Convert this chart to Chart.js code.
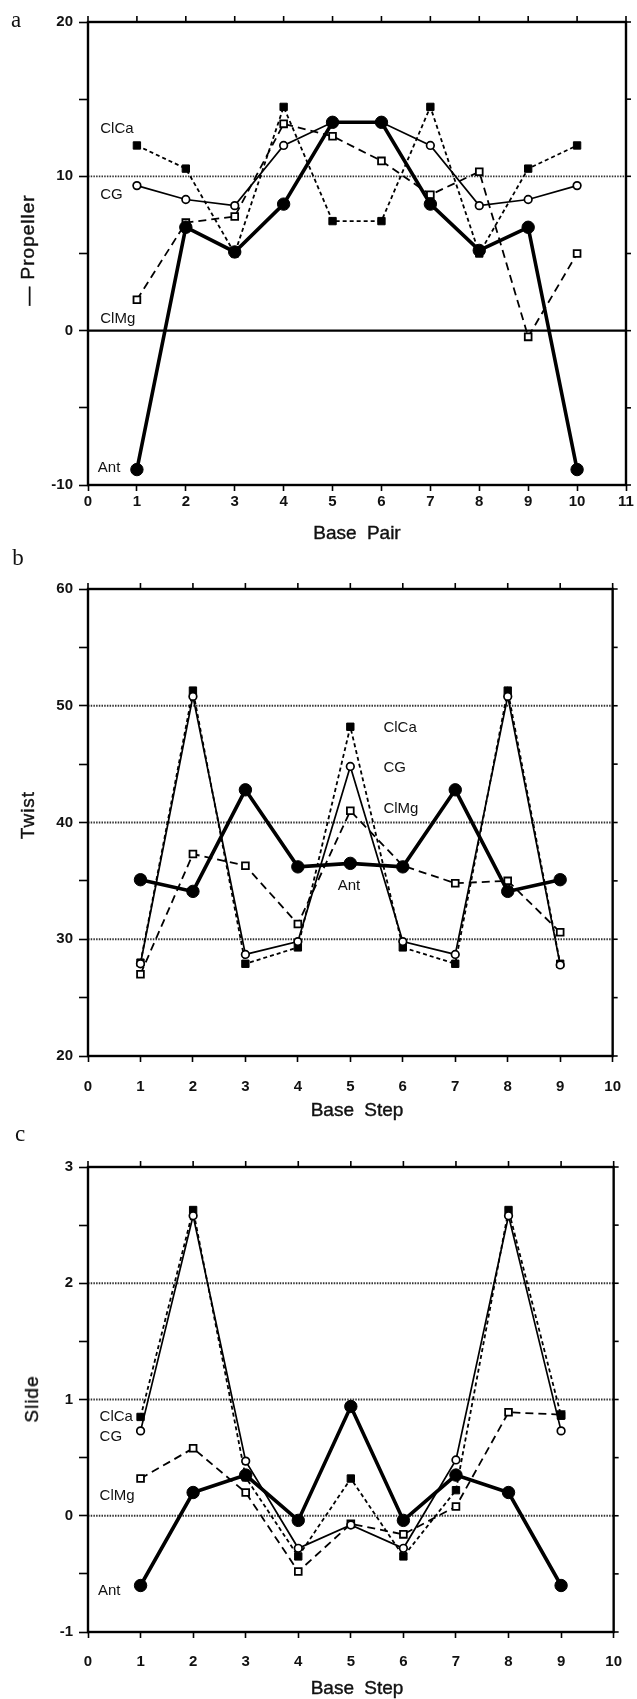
<!DOCTYPE html>
<html lang="en">
<head>
  <meta charset="UTF-8" />
  <title>Propeller, Twist and Slide</title>
  <script src="https://cdn.jsdelivr.net/npm/chart.js"></script>
  <style>
    body { margin: 0; background: #fff; width: 637px; height: 1699px; position: relative; overflow: hidden; }
    canvas { position: absolute; left: 0; }
    .txt { position: absolute; font-family: "Liberation Sans", Arial, sans-serif; color: #111; white-space: nowrap;
           transform: translate(-50%, -50%); }
    .panel { font-family: "Liberation Serif", serif; font-size: 23px; }
    .ytitle { font-size: 19px; letter-spacing: 1px; -webkit-text-stroke: 0.4px #111; transform: translate(-50%, -50%) rotate(-90deg); }
    .xtitle { font-size: 19px; word-spacing: 5px; -webkit-text-stroke: 0.4px #111; }
  </style>
</head>
<body>

  <canvas id="chartA" width="637" height="545" style="top:0px"></canvas>
  <canvas id="chartB" width="637" height="575" style="top:545px"></canvas>
  <canvas id="chartC" width="637" height="579" style="top:1120px"></canvas>

  <!-- panel letters and axis titles -->
  <div class="txt panel" style="left:16px; top:20px">a</div>
  <div class="txt ytitle" style="left:28px; top:250px">— Propeller</div>
  <div class="txt xtitle" style="left:357px; top:533px">Base Pair</div>

  <div class="txt panel" style="left:18px; top:558px">b</div>
  <div class="txt ytitle" style="left:28px; top:815px">Twist</div>
  <div class="txt xtitle" style="left:357px; top:1110px">Base Step</div>

  <div class="txt panel" style="left:20px; top:1134px">c</div>
  <div class="txt ytitle" style="left:32px; top:1399px">Slide</div>
  <div class="txt xtitle" style="left:357px; top:1688px">Base Step</div>

<script>
  // series names (order: Ant, CG, ClCa, ClMg)
  const seriesNames = ['Ant', 'CG', 'ClCa', 'ClMg'];

  // a: propeller per base pair
  const basePairs = [1, 2, 3, 4, 5, 6, 7, 8, 9, 10];
  const propAnt  = [-9.0, 6.7, 5.1, 8.2, 13.5, 13.5, 8.2, 5.2, 6.7, -9.0];
  const propCG   = [9.4, 8.5, 8.1, 12.0, 13.5, 13.5, 12.0, 8.1, 8.5, 9.4];
  const propClCa = [12.0, 10.5, 5.0, 14.5, 7.1, 7.1, 14.5, 5.0, 10.5, 12.0];
  const propClMg = [2.0, 7.0, 7.4, 13.4, 12.6, 11.0, 8.8, 10.3, -0.4, 5.0];

  // b: twist per base step
  const baseSteps = [1, 2, 3, 4, 5, 6, 7, 8, 9];
  const twistAnt  = [35.1, 34.1, 42.8, 36.2, 36.5, 36.2, 42.8, 34.1, 35.1];
  const twistCG   = [27.9, 50.8, 28.7, 29.8, 44.8, 29.8, 28.7, 50.8, 27.8];
  const twistClCa = [28.0, 51.3, 27.9, 29.3, 48.2, 29.3, 27.9, 51.3, 27.9];
  const twistClMg = [27.0, 37.3, 36.3, 31.3, 41.0, 36.3, 34.8, 35.0, 30.6];

  // c: slide per base step
  const slideAnt  = [-0.6, 0.2, 0.35, -0.04, 0.94, -0.04, 0.35, 0.2, -0.6];
  const slideCG   = [0.73, 2.58, 0.47, -0.28, -0.08, -0.28, 0.48, 2.58, 0.73];
  const slideClCa = [0.85, 2.63, 0.33, -0.35, 0.32, -0.35, 0.22, 2.63, 0.86];
  const slideClMg = [0.32, 0.58, 0.20, -0.48, -0.07, -0.16, 0.08, 0.89, 0.87];

  const FONT = '"Liberation Sans", Arial, sans-serif';

  // frame, reference lines, top/right ticks and series labels
  const framePlugin = {
    id: 'frame',
    beforeDatasetsDraw(chart, args, opts) {
      const { ctx, chartArea: a, scales: { x, y } } = chart;
      const line = (x1, y1, x2, y2) => { ctx.beginPath(); ctx.moveTo(x1, y1); ctx.lineTo(x2, y2); ctx.stroke(); };
      ctx.save();
      ctx.strokeStyle = '#333';
      ctx.lineWidth = 1.8;
      ctx.setLineDash([1.5, 1.2]);
      (opts.dotted || []).forEach(v => { const py = y.getPixelForValue(v); line(a.left, py, a.right, py); });
      ctx.setLineDash([]);
      ctx.strokeStyle = '#000';
      ctx.lineWidth = 2.4;
      (opts.solid || []).forEach(v => { const py = y.getPixelForValue(v); line(a.left, py, a.right, py); });
      ctx.strokeRect(a.left, a.top, a.right - a.left, a.bottom - a.top);
      ctx.lineWidth = 1.6;
      x.ticks.forEach(t => { const px = x.getPixelForValue(t.value); line(px, a.top, px, a.top - 6); });
      y.ticks.forEach(t => { const py = y.getPixelForValue(t.value); line(a.right, py, a.right + 5, py); });
      ctx.restore();
    },
    afterDatasetsDraw(chart, args, opts) {
      const { ctx, scales: { x, y } } = chart;
      ctx.save();
      ctx.fillStyle = '#111';
      ctx.font = '15px ' + FONT;
      ctx.textAlign = 'left';
      ctx.textBaseline = 'middle';
      (opts.labels || []).forEach(l => ctx.fillText(l.text, x.getPixelForValue(l.x), y.getPixelForValue(l.y)));
      ctx.restore();
    }
  };

  function makeDatasets(xs, ant, cg, clca, clmg) {
    const pts = arr => arr.map((v, i) => ({ x: xs[i], y: v }));
    return [
      { label: seriesNames[0], data: pts(ant), borderColor: '#000', borderWidth: 3.6, pointRadius: 6.2,
        pointBackgroundColor: '#000', pointBorderColor: '#000', pointBorderWidth: 1 },
      { label: seriesNames[1], data: pts(cg), borderColor: '#000', borderWidth: 1.7, pointRadius: 3.8,
        pointBackgroundColor: '#fff', pointBorderColor: '#000', pointBorderWidth: 1.7 },
      { label: seriesNames[2], data: pts(clca), borderColor: '#000', borderWidth: 1.8, borderDash: [4, 3],
        pointStyle: 'rect', pointRadius: 5.2, pointBackgroundColor: '#000', pointBorderColor: '#000', pointBorderWidth: 1 },
      { label: seriesNames[3], data: pts(clmg), borderColor: '#000', borderWidth: 1.8, borderDash: [8, 5],
        pointStyle: 'rect', pointRadius: 4.8, pointBackgroundColor: '#fff', pointBorderColor: '#000', pointBorderWidth: 1.8 }
    ];
  }

  function makeChart(id, cfg) {
    return new Chart(document.getElementById(id), {
      type: 'line',
      data: { datasets: makeDatasets(cfg.xs, ...cfg.series) },
      plugins: [framePlugin],
      options: {
        responsive: false,
        animation: false,
        layout: { padding: { top: cfg.top, left: 0, right: 11, bottom: 0 } },
        elements: { line: { tension: 0 } },
        plugins: {
          legend: { display: false },
          tooltip: { enabled: false },
          frame: { dotted: cfg.dotted, solid: cfg.solid, labels: cfg.labels }
        },
        scales: {
          x: {
            type: 'linear', min: 0, max: cfg.xmax,
            ticks: { stepSize: 1, color: '#111', font: { family: FONT, size: 15, weight: 'bold' }, padding: cfg.xpad, maxRotation: 0 },
            grid: { drawOnChartArea: false, drawTicks: true, tickLength: 6, tickWidth: 1.6, tickColor: '#000' },
            border: { display: false },
            afterFit: s => { s.height = cfg.xh; }
          },
          y: {
            min: cfg.ymin, max: cfg.ymax,
            ticks: { stepSize: cfg.step, color: '#111', font: { family: FONT, size: 15, weight: 'bold' }, padding: 6,
                     callback: v => (Math.abs(v / cfg.labelStep - Math.round(v / cfg.labelStep)) < 1e-6 ? String(v) : '') },
            grid: { drawOnChartArea: false, drawTicks: true, tickLength: 9, tickWidth: 1.6, tickColor: '#000' },
            border: { display: false },
            afterFit: s => { s.width = 88; }
          }
        }
      }
    });
  }

  makeChart('chartA', {
    xs: basePairs, series: [propAnt, propCG, propClCa, propClMg],
    xmax: 11, ymin: -10, ymax: 20, step: 5, labelStep: 10,
    top: 22, xh: 60, xpad: 2,
    dotted: [10], solid: [0],
    labels: [
      { text: 'ClCa', x: 0.25, y: 13.1 },
      { text: 'CG', x: 0.25, y: 8.8 },
      { text: 'ClMg', x: 0.25, y: 0.75 },
      { text: 'Ant', x: 0.2, y: -8.9 }
    ]
  });

  makeChart('chartB', {
    xs: baseSteps, series: [twistAnt, twistCG, twistClCa, twistClMg],
    xmax: 10, ymin: 20, ymax: 60, step: 5, labelStep: 10,
    top: 44, xh: 64, xpad: 16,
    dotted: [30, 40, 50], solid: [],
    labels: [
      { text: 'ClCa', x: 5.63, y: 48.1 },
      { text: 'CG', x: 5.63, y: 44.7 },
      { text: 'ClMg', x: 5.63, y: 41.2 },
      { text: 'Ant', x: 4.76, y: 34.6 }
    ]
  });

  makeChart('chartC', {
    xs: baseSteps, series: [slideAnt, slideCG, slideClCa, slideClMg],
    xmax: 10, ymin: -1, ymax: 3, step: 0.5, labelStep: 1,
    top: 47, xh: 67, xpad: 15,
    dotted: [0, 1, 2], solid: [],
    labels: [
      { text: 'ClCa', x: 0.22, y: 0.85 },
      { text: 'CG', x: 0.22, y: 0.68 },
      { text: 'ClMg', x: 0.22, y: 0.17 },
      { text: 'Ant', x: 0.19, y: -0.65 }
    ]
  });
</script>
</body>
</html>
